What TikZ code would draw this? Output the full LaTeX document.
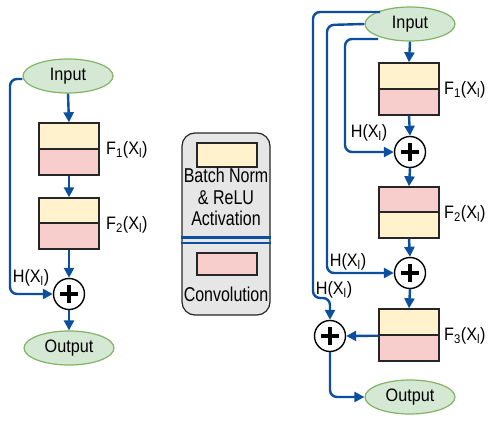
\documentclass[tikz,border=0pt]{standalone}
\usepackage{fontspec}
\setmainfont[FakeStretch=0.9]{Liberation Sans}
\newfontfamily\legfont[FakeStretch=0.8]{Liberation Sans}
\usetikzlibrary{shapes.geometric,arrows.meta}
\definecolor{lblue}{HTML}{0B4F9E}
\definecolor{egreen}{HTML}{D5E8D4}
\definecolor{egreenb}{HTML}{82B366}
\definecolor{byellow}{HTML}{FFF2CC}
\definecolor{bpink}{HTML}{F8CECC}
\definecolor{lgray}{HTML}{E6E6E6}
\tikzset{
  px/.style={x=1pt,y=-1pt},
  conn/.style={draw=lblue,line width=2.4pt,rounded corners=7pt,-{Triangle[length=10pt,width=10pt]}},
  io/.style={ellipse,draw=egreenb,fill=egreen,line width=1.2pt,minimum width=90pt,minimum height=34pt,inner sep=0pt,font=\fontsize{18}{20}\selectfont},
  half/.style={draw=black!85,line width=1.4pt,minimum width=60pt,minimum height=26pt,inner sep=0pt},
  yel/.style={half,fill=byellow},
  pnk/.style={half,fill=bpink},
  plusn/.style={circle,draw=black,fill=white,line width=1.4pt,minimum size=31pt,inner sep=0pt},
  lbl/.style={font=\fontsize{18}{20}\selectfont,inner sep=0pt},
  leglbl/.style={font=\legfont\fontsize{20}{21.5}\selectfont,inner sep=0pt},
}
\newcommand{\Fl}[1]{F\textsubscript{#1}(X\textsubscript{l})}
\newcommand{\Hl}{H(X\textsubscript{l})}
\newcommand{\plussym}[1]{\draw[line width=3.8pt] ([xshift=-9pt]#1.center) -- ([xshift=9pt]#1.center); \draw[line width=3.8pt] ([yshift=-9pt]#1.center) -- ([yshift=9pt]#1.center);}
\begin{document}
\begin{tikzpicture}[px]
\useasboundingbox (0,0) rectangle (492,420);
% ---------- left column ----------
\node[io] (inL) at (68,76) {Input};
\node[yel] (a1) at (69,136) {};
\node[pnk] (a2) at (69,162) {};
\node[yel] (b1) at (69,211) {};
\node[pnk] (b2) at (69,236) {};
\node[plusn] (pL) at (69,294) {};
\plussym{pL}
\node[io] (outL) at (69,348) {Output};
\node[lbl,anchor=west] (fa) at (106,150) {\Fl{1}};
\node[lbl,anchor=west] (fb) at (106,225) {\Fl{2}};
\node[lbl] (hL) at (31,278) {\Hl};
\draw[conn] (inL.south) -- (a1.north);
\draw[conn] (a2.south) -- (b1.north);
\draw[conn] (b2.south) -- (pL.north);
\draw[conn] (pL.south) -- (outL.north);
\coordinate (sL1) at (10,79);
\coordinate (sL2) at (10,294);
\draw[conn] (inL.west |- 0,79) -- (sL1) -- (sL2) -- (pL.west);
% ---------- legend ----------
\node[draw=black!85,fill=lgray,line width=1.2pt,rounded corners=13pt,minimum width=88pt,minimum height=182pt] (leg) at (226,224) {};
\node[yel,minimum height=24pt] (ly) at (227,155) {};
\node[leglbl,align=center,anchor=north] (lt) at (226,168) {Batch Norm\\\& ReLU\\Activation};
\draw[lblue,line width=2.2pt] (leg.west |- 0,237.5) -- (leg.east |- 0,237.5);
\draw[lblue,line width=2.2pt] (leg.west |- 0,243) -- (leg.east |- 0,243);
\node[pnk,minimum height=22pt] (lp) at (227,264) {};
\node[leglbl] (lc) at (226,294) {Convolution};
% ---------- right column ----------
\node[io] (inR) at (410,24) {Input};
\node[yel] (c1) at (409,76) {};
\node[pnk] (c2) at (409,102) {};
\node[plusn] (p1) at (410,152) {};
\plussym{p1}
\node[pnk] (d1) at (409,200) {};
\node[yel] (d2) at (409,225) {};
\node[plusn] (p2) at (410,273) {};
\plussym{p2}
\node[yel] (e1) at (409,322) {};
\node[pnk] (e2) at (409,348) {};
\node[plusn] (p3) at (330,336) {};
\plussym{p3}
\node[io] (outR) at (410,397) {Output};
\node[lbl,anchor=west] (fc) at (444,90) {\Fl{1}};
\node[lbl,anchor=west] (fd) at (444,214) {\Fl{2}};
\node[lbl,anchor=west] (fe) at (444,336) {\Fl{3}};
\node[lbl] (h1) at (369,133) {\Hl};
\node[lbl] (h2) at (348,262) {\Hl};
\node[lbl] (h3) at (334,290) {\Hl};
\draw[conn] (inR.south) -- (c1.north);
\draw[conn] (c2.south) -- (p1.north);
\draw[conn] (p1.south) -- (d1.north);
\draw[conn] (d2.south) -- (p2.north);
\draw[conn] (p2.south) -- (e1.north);
\draw[conn] (e1.south west) -- (p3.east);
% skip connections
\coordinate (s1a) at (345,39);
\coordinate (s1b) at (345,152);
\draw[conn] (378,39) -- (s1a) -- (s1b) -- (p1.west);
\coordinate (s2a) at (327,25);
\coordinate (s2b) at (327,273);
\draw[conn] (inR.west) -- (s2a) -- (s2b) -- (p2.west);
\coordinate (s3a) at (313,12);
\coordinate (s3b) at (313,298);
\coordinate (s3c) at (330,298);
\draw[conn] (380,12) -- (s3a) -- (s3b) -- (s3c) -- (p3.north);
\coordinate (o3) at (330,397);
\draw[conn] (p3.south) -- (o3) -- (outR.west);
\end{tikzpicture}
\end{document}
